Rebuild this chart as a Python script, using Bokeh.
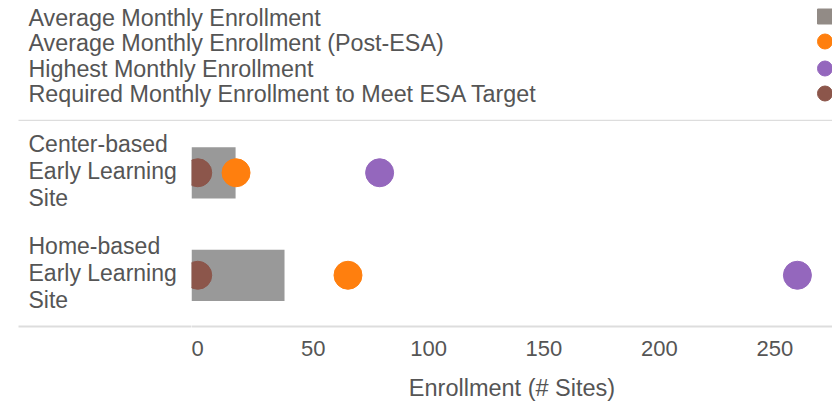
from bokeh.plotting import figure
from bokeh.models import Range1d, FactorRange, FixedTicker
from bokeh.layouts import column, row
from bokeh.core.properties import value
from bokeh.embed import file_html
from bokeh.resources import INLINE

# ---------------- data ----------------
categories = ["Center-based Early Learning Site", "Home-based Early Learning Site"]
category_labels = ["Center-based\nEarly Learning\nSite", "Home-based\nEarly Learning\nSite"]
avg_enrollment = [16.4, 37.6]
avg_post_esa = [16.6, 65.1]
highest_enrollment = [78.8, 259.8]
required_enrollment = [0, 0]
series_names = [
    "Average Monthly Enrollment",
    "Average Monthly Enrollment (Post-ESA)",
    "Highest Monthly Enrollment",
    "Required Monthly Enrollment to Meet ESA Target",
]
x_ticks = [0, 50, 100, 150, 200, 250]
x_axis_title = "Enrollment (# Sites)"
x_min, x_max = -2.7, 275.0

# ---------------- style ----------------
BAR_COLOR = "#999999"
LEGEND_SQUARE = "#928b86"
ORANGE = "#ff7f0e"
PURPLE = "#9467bd"
BROWN = "#8c564b"
TXT = "#555555"
SEP = "#dddddd"
FONT_NAME = "Liberation Sans"
FONT = value(FONT_NAME)

# ---------------- legend strip ----------------
leg = figure(width=832, height=121, x_range=Range1d(0, 832), y_range=Range1d(121, 0),
             output_backend="svg", toolbar_location=None,
             x_axis_location=None, y_axis_location=None,
             min_border=0, outline_line_color=None)
leg.xgrid.visible = False
leg.ygrid.visible = False
leg.text(x=[28, 28, 28, 28], y=[17, 42.5, 68, 93], text=series_names,
         text_font=FONT, text_font_size="23.3px", text_color=TXT,
         text_baseline="alphabetic", text_align="left")
leg.scatter(x=[824.5], y=[16], marker="square", size=15, color=LEGEND_SQUARE)
leg.scatter(x=[824.5, 824.5, 824.5], y=[41, 68, 93], marker="circle", size=15,
            color=[ORANGE, PURPLE, BROWN])
leg.segment(x0=[18], y0=[120.3], x1=[832], y1=[120.3], line_color=SEP, line_width=2)

# ---------------- shared category range ----------------
yr = FactorRange(factors=categories[::-1], range_padding=0)

# ---------------- category label panel ----------------
lab = figure(width=191, height=282, x_range=Range1d(0, 173), y_range=yr,
             output_backend="svg", toolbar_location=None, y_axis_location=None,
             min_border_left=18, min_border_right=0, min_border_top=0, min_border_bottom=76,
             outline_line_color=None)
lab.xgrid.visible = False
lab.ygrid.visible = False
lab.text(x=[10, 10], y=categories, text=category_labels,
         text_font=FONT, text_font_size="23px", text_color=TXT,
         text_baseline="middle", text_align="left", text_line_height=1.03,
         y_offset=-2)
lab.xaxis.ticker = FixedTicker(ticks=[])
lab.xaxis.major_tick_out = 0
lab.xaxis.major_tick_in = 0
lab.xaxis.minor_tick_out = 0
lab.xaxis.minor_tick_in = 0
lab.xaxis.major_label_text_font_size = "0px"
lab.xaxis.axis_line_color = SEP
lab.xaxis.axis_line_width = 2

# ---------------- main plot ----------------
p = figure(width=641, height=282, x_range=Range1d(x_min, x_max), y_range=yr,
           output_backend="svg", toolbar_location=None, y_axis_location=None,
           min_border_left=0, min_border_right=0, min_border_top=0, min_border_bottom=76,
           outline_line_color=None)
p.xgrid.visible = False
p.ygrid.visible = False

p.hbar(y=categories, left=[x_min, x_min], right=avg_enrollment, height=0.5,
       fill_color=BAR_COLOR, line_color=None)
p.scatter(x=avg_post_esa, y=categories, size=28, color=ORANGE)
p.scatter(x=highest_enrollment, y=categories, size=28, color=PURPLE)
p.scatter(x=required_enrollment, y=categories, size=28, color=BROWN)

ax = p.xaxis[0]
ax.ticker = FixedTicker(ticks=x_ticks)
ax.major_tick_out = 0
ax.major_tick_in = 0
ax.minor_tick_out = 0
ax.minor_tick_in = 0
ax.axis_line_color = SEP
ax.axis_line_width = 2
ax.major_label_text_font = FONT_NAME
ax.major_label_text_font_size = "22px"
ax.major_label_text_color = TXT
ax.major_label_standoff = 14
ax.axis_label = x_axis_title
ax.axis_label_text_font = FONT_NAME
ax.axis_label_text_font_size = "23.5px"
ax.axis_label_text_font_style = "normal"
ax.axis_label_text_color = TXT
ax.axis_label_standoff = 16

layout = column(leg, row(lab, p))

open("out.html", "w").write(file_html(layout, INLINE))
